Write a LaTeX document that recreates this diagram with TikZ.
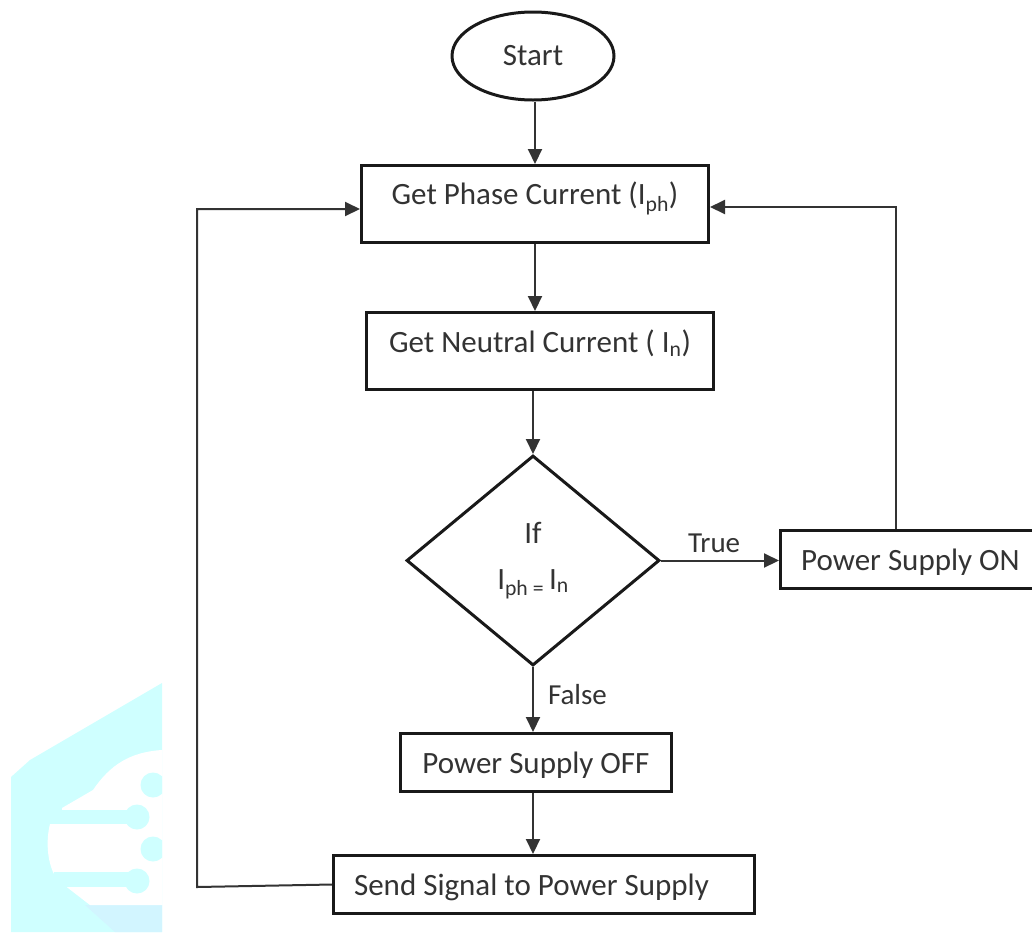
\documentclass[tikz,border=0pt]{standalone}
\usepackage{fontspec}
\setmainfont{Carlito}
\usetikzlibrary{
    arrows.meta,
    positioning,
    shapes.geometric
}
\definecolor{inkgrey}{HTML}{333333}
\definecolor{wmcyan}{HTML}{CFFFFF}
\definecolor{wmblue}{HTML}{D2F5FF}
\tikzstyle{proc} = [rectangle, draw=black!90, line width=3pt, text=inkgrey, inner sep=0, font=\fontsize{31}{36}\selectfont]
\tikzstyle{term} = [ellipse, draw=black!90, line width=3pt, text=inkgrey, inner sep=0, minimum width=162pt, minimum height=88pt, font=\fontsize{31}{36}\selectfont]
\tikzstyle{cond} = [diamond, draw=black!90, line width=3pt, text=inkgrey, inner sep=0, aspect=1.2, minimum width=253pt, minimum height=210pt, align=center, font=\fontsize{31}{46}\selectfont]
\tikzstyle{link} = [draw=black!80, line width=2pt, -{Triangle[length=15pt,width=14pt]}]
\tikzstyle{linklabel} = [text=inkgrey, inner sep=0, font=\fontsize{29}{34}\selectfont]

\begin{document}
\begin{tikzpicture}[x=1pt, y=-1pt]
    \useasboundingbox (0,0) rectangle (1032,932);

    % logo behind the chart
    \begin{scope}
        \clip (0,670) rectangle (162,932);
        \fill[wmcyan] (11,777) -- (30,760) -- (162,683) -- (162,932) -- (11,932) -- cycle;
        \fill[wmblue] (85,905) -- (162,905) -- (162,932) -- (115,932) -- cycle;
        \fill[white] (162,750) .. controls (130,752) and (110,765) .. (93,790) -- (62,808) -- (62,824) -- (50,824) .. controls (46,840) and (47,860) .. (54,874) -- (68,888) -- (90,905) -- (162,905) -- cycle;
        \fill[wmcyan] (62,810) rectangle (137,824);
        \fill[wmcyan] (54,872) rectangle (137,887);
        \foreach \cx / \cy in {153/785, 137/817, 153/849, 137/881}{
        \fill[wmcyan] (\cx,\cy) circle (12.5pt);
        }
    \end{scope}

    \node[term] (Start) at (533,56) {Start};
    \node[proc, minimum width=347pt, minimum height=77pt] (Phase) [below=62.5pt of Start, xshift=2pt] {\raisebox{21pt}{Get Phase Current (I\textsubscript{ph})}};
    \node[proc, minimum width=347pt, minimum height=77pt] (Neutral) [below=67pt of Phase, xshift=5pt] {\raisebox{19pt}{Get Neutral Current ( I\textsubscript{n})}};
    \node[cond] (Cond) [below=63pt of Neutral, xshift=-7pt] {If\\I\textsubscript{ph = }I\textsubscript{n}};
    \node[proc, minimum width=271pt, minimum height=58pt] (Off) [below=65pt of Cond, xshift=3pt] {\raisebox{-3pt}[\height][\depth]{Power Supply OFF}};
    \node[proc, minimum width=421pt, minimum height=58pt] (Send) [below=61pt of Off, xshift=8pt] {\hspace{-25pt}\raisebox{-3pt}[\height][\depth]{Send Signal to Power Supply}};
    \node[proc, minimum width=260pt, minimum height=58pt] (On) [right=118pt of Cond, yshift=1.5pt] {\raisebox{-3pt}[\height][\depth]{Power Supply ON}};

    \coordinate (SendCorner) at (197,887);

    \draw[link] (Start.south -| Phase.north) -- (Phase.north);
    \draw[link] (Phase.south) -- (Phase.south |- Neutral.north);
    \draw[link] (Neutral.south -| Cond.north) -- (Cond.north);
    \draw[link] (Cond.south) -- node[linklabel, right=14pt, pos=0.42] (FalseLabel) {False} (Cond.south |- Off.north);
    \draw[link] (Cond.south |- Off.south) -- (Cond.south |- Send.north);
    \draw[link] (Cond.east) -- node[linklabel, above=7pt, pos=0.45] (TrueLabel) {True} (Cond.east -| On.west);
    \draw[link] ([xshift=-15pt]On.north) |- ([yshift=-3pt]Phase.east);
    \draw[link] (Send.west) -- (SendCorner) |- ([yshift=-5pt]Phase.west);
\end{tikzpicture}
\end{document}
